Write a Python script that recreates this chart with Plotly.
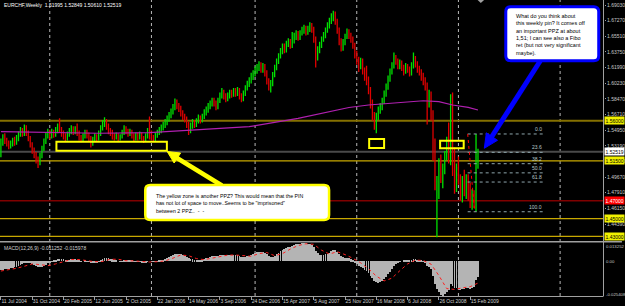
import pandas as pd
import plotly.graph_objects as go

# ---------------- data ----------------
chart_title = "EURCHF,Weekly  1.51995 1.52849 1.50610 1.52519"
macd_title = "MACD(12,26,9) -0.011252 -0.015978"
first_week = "2004-07-11"

open_ = [
    1.524, 1.536, 1.541, 1.538, 1.535, 1.532, 1.534, 1.538, 1.536, 1.540,
    1.545, 1.549, 1.546, 1.553, 1.546, 1.540, 1.533, 1.527, 1.522, 1.517,
    1.513, 1.521, 1.529, 1.537, 1.543, 1.547, 1.543, 1.547, 1.545, 1.549,
    1.553, 1.550, 1.546, 1.543, 1.540, 1.545, 1.549, 1.551, 1.548, 1.550,
    1.546, 1.541, 1.538, 1.543, 1.547, 1.544, 1.540, 1.535, 1.539, 1.542,
    1.540, 1.546, 1.552, 1.557, 1.560, 1.554, 1.549, 1.547, 1.543, 1.541,
    1.544, 1.540, 1.542, 1.547, 1.551, 1.549, 1.546, 1.548, 1.543, 1.540,
    1.544, 1.541, 1.545, 1.540, 1.538, 1.543, 1.549, 1.546, 1.541, 1.539,
    1.544, 1.547, 1.549, 1.552, 1.555, 1.558, 1.562, 1.566, 1.570, 1.575,
    1.580, 1.577, 1.574, 1.569, 1.565, 1.562, 1.556, 1.550, 1.555, 1.558,
    1.556, 1.560, 1.563, 1.561, 1.565, 1.569, 1.572, 1.576, 1.579, 1.582,
    1.580, 1.576, 1.583, 1.588, 1.592, 1.588, 1.585, 1.588, 1.591, 1.590,
    1.593, 1.591, 1.594, 1.588, 1.585, 1.591, 1.597, 1.601, 1.605, 1.610,
    1.613, 1.617, 1.620, 1.622, 1.618, 1.621, 1.614, 1.605, 1.598, 1.602,
    1.612, 1.620, 1.627, 1.633, 1.638, 1.643, 1.640, 1.646, 1.649, 1.645,
    1.650, 1.655, 1.658, 1.654, 1.659, 1.662, 1.664, 1.660, 1.663, 1.667,
    1.664, 1.652, 1.632, 1.640, 1.645, 1.652, 1.656, 1.662, 1.667, 1.672,
    1.677, 1.680, 1.672, 1.662, 1.650, 1.643, 1.648, 1.655, 1.660, 1.656,
    1.652, 1.645, 1.635, 1.628, 1.622, 1.627, 1.617, 1.610, 1.605, 1.595,
    1.580, 1.566, 1.555, 1.565, 1.572, 1.576, 1.582, 1.590, 1.598, 1.607,
    1.615, 1.622, 1.630, 1.627, 1.622, 1.625, 1.620, 1.616, 1.621, 1.618,
    1.614, 1.622, 1.630, 1.624, 1.618, 1.615, 1.610, 1.605, 1.600, 1.578,
    1.590, 1.568, 1.522, 1.490, 1.494, 1.512, 1.498, 1.505, 1.520, 1.535,
    1.516, 1.580, 1.505, 1.488, 1.500, 1.495, 1.478, 1.492, 1.480, 1.494,
    1.475, 1.468, 1.478, 1.470, 1.51995,
]
high = [
    1.540, 1.545, 1.546, 1.541, 1.538, 1.538, 1.541, 1.542, 1.544, 1.548,
    1.553, 1.552, 1.556, 1.555, 1.549, 1.543, 1.536, 1.530, 1.525, 1.520,
    1.524, 1.532, 1.540, 1.547, 1.551, 1.550, 1.551, 1.550, 1.553, 1.557,
    1.563, 1.553, 1.549, 1.546, 1.548, 1.552, 1.555, 1.554, 1.554, 1.557,
    1.549, 1.544, 1.546, 1.550, 1.550, 1.547, 1.543, 1.542, 1.546, 1.545,
    1.549, 1.555, 1.561, 1.564, 1.562, 1.557, 1.552, 1.550, 1.546, 1.547,
    1.546, 1.545, 1.550, 1.555, 1.554, 1.551, 1.551, 1.550, 1.546, 1.547,
    1.547, 1.548, 1.547, 1.543, 1.546, 1.552, 1.565, 1.549, 1.544, 1.547,
    1.550, 1.553, 1.556, 1.559, 1.562, 1.566, 1.570, 1.574, 1.579, 1.585,
    1.584, 1.580, 1.577, 1.572, 1.568, 1.565, 1.559, 1.558, 1.562, 1.561,
    1.563, 1.567, 1.566, 1.568, 1.573, 1.576, 1.580, 1.583, 1.586, 1.586,
    1.583, 1.586, 1.592, 1.597, 1.595, 1.591, 1.592, 1.595, 1.595, 1.597,
    1.597, 1.598, 1.597, 1.591, 1.594, 1.600, 1.605, 1.609, 1.614, 1.617,
    1.621, 1.624, 1.627, 1.626, 1.625, 1.624, 1.617, 1.608, 1.606, 1.615,
    1.623, 1.630, 1.636, 1.642, 1.647, 1.647, 1.650, 1.653, 1.652, 1.660,
    1.659, 1.662, 1.661, 1.662, 1.666, 1.668, 1.667, 1.667, 1.671, 1.670,
    1.666, 1.655, 1.644, 1.649, 1.655, 1.660, 1.665, 1.671, 1.676, 1.681,
    1.684, 1.683, 1.675, 1.665, 1.653, 1.652, 1.658, 1.664, 1.663, 1.659,
    1.655, 1.648, 1.639, 1.632, 1.631, 1.630, 1.620, 1.622, 1.610, 1.598,
    1.584, 1.570, 1.569, 1.576, 1.580, 1.586, 1.594, 1.602, 1.611, 1.619,
    1.626, 1.637, 1.634, 1.630, 1.629, 1.628, 1.623, 1.625, 1.624, 1.621,
    1.626, 1.637, 1.633, 1.627, 1.622, 1.618, 1.614, 1.609, 1.603, 1.595,
    1.593, 1.572, 1.540, 1.498, 1.518, 1.522, 1.512, 1.526, 1.542, 1.558,
    1.590, 1.592, 1.530, 1.512, 1.520, 1.500, 1.498, 1.505, 1.500, 1.500,
    1.490, 1.483, 1.482, 1.5452, 1.52849,
]
low = [
    1.519, 1.532, 1.534, 1.531, 1.528, 1.529, 1.531, 1.532, 1.533, 1.537,
    1.542, 1.542, 1.543, 1.543, 1.537, 1.530, 1.523, 1.518, 1.512, 1.507,
    1.510, 1.518, 1.526, 1.534, 1.540, 1.539, 1.540, 1.541, 1.542, 1.546,
    1.547, 1.542, 1.539, 1.537, 1.538, 1.542, 1.545, 1.544, 1.545, 1.543,
    1.538, 1.536, 1.537, 1.540, 1.540, 1.537, 1.530, 1.532, 1.537, 1.537,
    1.538, 1.543, 1.549, 1.553, 1.550, 1.545, 1.543, 1.539, 1.538, 1.539,
    1.537, 1.538, 1.540, 1.544, 1.545, 1.542, 1.543, 1.540, 1.537, 1.538,
    1.538, 1.539, 1.538, 1.535, 1.537, 1.540, 1.539, 1.538, 1.537, 1.537,
    1.541, 1.544, 1.546, 1.549, 1.552, 1.555, 1.559, 1.563, 1.567, 1.572,
    1.573, 1.570, 1.565, 1.561, 1.558, 1.552, 1.544, 1.546, 1.551, 1.552,
    1.553, 1.557, 1.557, 1.558, 1.562, 1.566, 1.569, 1.573, 1.576, 1.576,
    1.572, 1.573, 1.580, 1.585, 1.584, 1.581, 1.582, 1.585, 1.586, 1.587,
    1.587, 1.588, 1.584, 1.581, 1.582, 1.588, 1.594, 1.598, 1.602, 1.606,
    1.610, 1.613, 1.616, 1.614, 1.614, 1.610, 1.601, 1.594, 1.592, 1.599,
    1.609, 1.617, 1.624, 1.630, 1.635, 1.636, 1.637, 1.643, 1.641, 1.642,
    1.647, 1.651, 1.650, 1.651, 1.656, 1.658, 1.656, 1.657, 1.660, 1.659,
    1.648, 1.620, 1.628, 1.636, 1.642, 1.649, 1.653, 1.659, 1.664, 1.669,
    1.672, 1.668, 1.658, 1.645, 1.638, 1.639, 1.645, 1.652, 1.652, 1.648,
    1.641, 1.630, 1.623, 1.615, 1.618, 1.612, 1.605, 1.600, 1.590, 1.574,
    1.560, 1.550, 1.546, 1.561, 1.568, 1.572, 1.579, 1.587, 1.595, 1.604,
    1.612, 1.619, 1.623, 1.618, 1.618, 1.616, 1.611, 1.613, 1.614, 1.610,
    1.611, 1.619, 1.620, 1.614, 1.611, 1.605, 1.600, 1.594, 1.556, 1.575,
    1.560, 1.515, 1.482, 1.429, 1.472, 1.490, 1.484, 1.500, 1.516, 1.512,
    1.510, 1.498, 1.478, 1.480, 1.488, 1.470, 1.468, 1.475, 1.472, 1.470,
    1.462, 1.460, 1.462, 1.4577, 1.50610,
]
close = [
    1.536, 1.541, 1.538, 1.535, 1.532, 1.534, 1.538, 1.536, 1.540, 1.545,
    1.549, 1.546, 1.553, 1.546, 1.540, 1.533, 1.527, 1.522, 1.517, 1.513,
    1.521, 1.529, 1.537, 1.543, 1.547, 1.543, 1.547, 1.545, 1.549, 1.553,
    1.550, 1.546, 1.543, 1.540, 1.545, 1.549, 1.551, 1.548, 1.550, 1.546,
    1.541, 1.538, 1.543, 1.547, 1.544, 1.540, 1.535, 1.539, 1.542, 1.540,
    1.546, 1.552, 1.557, 1.560, 1.554, 1.549, 1.547, 1.543, 1.541, 1.544,
    1.540, 1.542, 1.547, 1.551, 1.549, 1.546, 1.548, 1.543, 1.540, 1.544,
    1.541, 1.545, 1.540, 1.538, 1.543, 1.549, 1.546, 1.541, 1.539, 1.544,
    1.547, 1.549, 1.552, 1.555, 1.558, 1.562, 1.566, 1.570, 1.575, 1.580,
    1.577, 1.574, 1.569, 1.565, 1.562, 1.556, 1.550, 1.555, 1.558, 1.556,
    1.560, 1.563, 1.561, 1.565, 1.569, 1.572, 1.576, 1.579, 1.582, 1.580,
    1.576, 1.583, 1.588, 1.592, 1.588, 1.585, 1.588, 1.591, 1.590, 1.593,
    1.591, 1.594, 1.588, 1.585, 1.591, 1.597, 1.601, 1.605, 1.610, 1.613,
    1.617, 1.620, 1.622, 1.618, 1.621, 1.614, 1.605, 1.598, 1.602, 1.612,
    1.620, 1.627, 1.633, 1.638, 1.643, 1.640, 1.646, 1.649, 1.645, 1.650,
    1.655, 1.658, 1.654, 1.659, 1.662, 1.664, 1.660, 1.663, 1.667, 1.664,
    1.652, 1.632, 1.640, 1.645, 1.652, 1.656, 1.662, 1.667, 1.672, 1.677,
    1.680, 1.672, 1.662, 1.650, 1.643, 1.648, 1.655, 1.660, 1.656, 1.652,
    1.645, 1.635, 1.628, 1.622, 1.627, 1.617, 1.610, 1.605, 1.595, 1.580,
    1.566, 1.555, 1.565, 1.572, 1.576, 1.582, 1.590, 1.598, 1.607, 1.615,
    1.622, 1.630, 1.627, 1.622, 1.625, 1.620, 1.616, 1.621, 1.618, 1.614,
    1.622, 1.630, 1.624, 1.618, 1.615, 1.610, 1.605, 1.600, 1.578, 1.590,
    1.568, 1.522, 1.490, 1.494, 1.512, 1.498, 1.505, 1.520, 1.535, 1.516,
    1.580, 1.505, 1.488, 1.500, 1.495, 1.478, 1.492, 1.480, 1.494, 1.475,
    1.468, 1.478, 1.470, 1.520, 1.52519,
]
macd_main = [
    -0.0068, -0.0064, -0.0060, -0.0057, -0.0055, -0.0052, -0.0048, -0.0045, -0.0040, -0.0033,
    -0.0025, -0.0019, -0.0011, -0.0008, -0.0009, -0.0014, -0.0021, -0.0029, -0.0037, -0.0045,
    -0.0046, -0.0042, -0.0034, -0.0025, -0.0015, -0.0009, -0.0002, 0.0003, 0.0009, 0.0015,
    0.0018, 0.0018, 0.0016, 0.0012, 0.0011, 0.0012, 0.0014, 0.0013, 0.0013, 0.0011,
    0.0006, 0.0001, 0.0000, 0.0002, 0.0001, -0.0003, -0.0009, -0.0011, -0.0010, -0.0010,
    -0.0004, 0.0005, 0.0014, 0.0022, 0.0024, 0.0022, 0.0019, 0.0013, 0.0008, 0.0005,
    0.0000, -0.0002, 0.0001, 0.0005, 0.0007, 0.0006, 0.0006, 0.0002, -0.0003, -0.0004,
    -0.0006, -0.0004, -0.0007, -0.0010, -0.0008, -0.0002, 0.0000, -0.0003, -0.0006, -0.0005,
    -0.0002, 0.0002, 0.0006, 0.0011, 0.0016, 0.0022, 0.0029, 0.0036, 0.0043, 0.0050,
    0.0053, 0.0053, 0.0050, 0.0045, 0.0039, 0.0031, 0.0021, 0.0016, 0.0013, 0.0009,
    0.0009, 0.0010, 0.0010, 0.0012, 0.0016, 0.0020, 0.0025, 0.0030, 0.0035, 0.0037,
    0.0035, 0.0038, 0.0042, 0.0047, 0.0048, 0.0046, 0.0045, 0.0045, 0.0044, 0.0044,
    0.0042, 0.0042, 0.0037, 0.0031, 0.0030, 0.0032, 0.0036, 0.0041, 0.0047, 0.0053,
    0.0059, 0.0064, 0.0068, 0.0067, 0.0067, 0.0061, 0.0050, 0.0038, 0.0031, 0.0033,
    0.0040, 0.0050, 0.0060, 0.0071, 0.0082, 0.0088, 0.0096, 0.0104, 0.0107, 0.0112,
    0.0118, 0.0124, 0.0125, 0.0128, 0.0131, 0.013252, 0.0130, 0.0127, 0.0126, 0.0121,
    0.0105, 0.0075, 0.0058, 0.0048, 0.0045, 0.0045, 0.0049, 0.0055, 0.0063, 0.0072,
    0.0080, 0.0078, 0.0068, 0.0052, 0.0036, 0.0027, 0.0024, 0.0024, 0.0020, 0.0014,
    0.0005, -0.0008, -0.0023, -0.0037, -0.0042, -0.0053, -0.0064, -0.0073, -0.0086, -0.0105,
    -0.0126, -0.0146, -0.0155, -0.0156, -0.0153, -0.0145, -0.0132, -0.0116, -0.0097, -0.0077,
    -0.0056, -0.0035, -0.0021, -0.0012, -0.0004, 0.0000, 0.0002, 0.0005, 0.0006, 0.0005,
    0.0008, 0.0014, 0.0015, 0.0012, 0.0008, 0.0002, -0.0006, -0.0014, -0.0035, -0.0042,
    -0.0060, -0.0107, -0.0163, -0.0202, -0.0225, -0.0246, -0.025408, -0.0240, -0.0222, -0.0212,
    -0.0170, -0.0180, -0.0196, -0.0196, -0.0198, -0.0208, -0.0204, -0.0206, -0.0197, -0.0199,
    -0.0202, -0.0193, -0.0187, -0.0140, -0.011252,
]
signal_week = list(range(0, 245, 4))
signal_vals = [
    -0.0072, -0.0063, -0.0052, -0.0037, -0.0020, -0.0025, -0.0033, -0.0020, -0.0002, 0.0012,
    0.0012, 0.0006, -0.0004, -0.0002, 0.0014, 0.0014, 0.0003, 0.0002, -0.0004, -0.0006,
    -0.0004, 0.0002, 0.0022, 0.0045, 0.0040, 0.0019, 0.0011, 0.0022, 0.0034, 0.0044,
    0.0045, 0.0038, 0.0036, 0.0055, 0.0063, 0.0040, 0.0055, 0.0088, 0.0114, 0.0127,
    0.0123, 0.0080, 0.0052, 0.0069, 0.0048, 0.0021, -0.0012, -0.0055, -0.0109, -0.0144,
    -0.0124, -0.0070, -0.0020, 0.0008, 0.0005, -0.0022, -0.0105, -0.0200, -0.0206, -0.0195,
    -0.0186, -0.015978,
]
ma_week = [0, 25, 50, 76, 101, 127, 152, 168, 178, 188, 203, 216, 224, 231, 239, 244]
ma_vals = [1.5478, 1.5467, 1.5460, 1.5467, 1.5497, 1.5534, 1.5628, 1.5699,
           1.5750, 1.5778, 1.5801, 1.5826, 1.5815, 1.5778, 1.5752, 1.5722]

date_tick_labels = ["11 Jul 2004", "31 Oct 2004", "20 Feb 2005", "12 Jun 2005",
                    "2 Oct 2005", "22 Jan 2006", "14 May 2006", "3 Sep 2006",
                    "24 Dec 2006", "15 Apr 2007", "5 Aug 2007", "25 Nov 2007",
                    "16 Mar 2008", "6 Jul 2008", "26 Oct 2008", "15 Feb 2009"]
year_grid_dates = ["2005-01-02", "2006-01-01", "2007-01-07", "2008-01-06",
                   "2009-01-04", "2010-01-03"]
price_ticks = [1.69030, 1.67270, 1.65510, 1.63750, 1.61990, 1.60230, 1.58470, 1.56710,
               1.54950, 1.53190, 1.51430, 1.49670, 1.47910, 1.46150, 1.44390]
level_prices = [1.56000, 1.51500, 1.47000, 1.45000, 1.43000]
level_kinds = ["olive", "gold", "red", "gold", "gold"]
bid_price = 1.52519
fib_high, fib_low = 1.5452, 1.4577
fib_ratios = [0.0, 0.236, 0.382, 0.5, 0.618, 1.0]
fib_labels = ["0.0", "23.6", "38.2", "50.0", "61.8", "100.0"]
macd_axis_labels = ["0.013252", "0.00", "-0.025408"]
macd_max, macd_min = 0.013252, -0.025408

yellow_note = ["The yellow zone is another PPZ? This would mean that the PIN",
               "has not lot of space to move..Seems to be \"imprisoned\"",
               "between 2 PPZ..  -  -"]
blue_note = ["What do you think about", "this weekly pin? It comes off",
             "an important PPZ at about", "1,51; I can see also a Fibo",
             "ret (but not very significant", "maybe)."]

# ---------------- geometry ----------------
W, H = 607.0, 296.0          # plot area in px
MAIN_BOTTOM, MACD_TOP = 241.0, 243.0
PX_PER_WEEK, X_FIRST = 1.965, 0.9
P_TOP, P_PER_PX = 1.69597, 0.0011253


def fx(x):
    return x / W


def fy(y):
    return 1 - y / H


t0 = pd.Timestamp(first_week)
wk = pd.Timedelta(days=7)
dates = pd.date_range(first_week, periods=len(close), freq="7D")
x_start = t0 - wk * (X_FIRST / PX_PER_WEEK)
x_end = t0 + wk * ((W - X_FIRST) / PX_PER_WEEK)

GREEN, RED = "#00e000", "#e00000"
fig = go.Figure()
fig.add_trace(go.Ohlc(
    x=dates, open=open_, high=high, low=low, close=close,
    increasing=dict(line=dict(color=GREEN, width=1.3)),
    decreasing=dict(line=dict(color=RED, width=1.3)),
    tickwidth=0.15, xaxis="x", yaxis="y", hoverinfo="skip"))
fig.add_trace(go.Scatter(x=dates[ma_week], y=ma_vals, mode="lines",
                         line=dict(color="#b020b0", width=1.2), yaxis="y"))
fig.add_trace(go.Bar(x=dates, y=macd_main, marker=dict(color="#b4b4b4", line=dict(width=0)),
                     width=3.0 * 86400000, yaxis="y2"))
fig.add_trace(go.Scatter(x=dates[signal_week], y=signal_vals, mode="lines",
                         line=dict(color="#ff2020", width=1, dash="dot"), yaxis="y2"))

shapes = []
ann = []
# year grid
for d in year_grid_dates:
    shapes.append(dict(type="line", xref="x", yref="paper", x0=d, x1=d, y0=0, y1=1,
                       line=dict(color="#b8b8b8", width=1, dash="dot"), layer="below"))
# level lines
lvl_style = {"olive": ("#857000", 2), "gold": ("#c8a800", 1.2), "red": ("#800000", 1.5)}
for p, k in zip(level_prices, level_kinds):
    c, w = lvl_style[k]
    shapes.append(dict(type="line", xref="paper", yref="y", x0=0, x1=1, y0=p, y1=p,
                       line=dict(color=c, width=w), layer="below"))
shapes.append(dict(type="line", xref="paper", yref="y", x0=0, x1=1, y0=bid_price, y1=bid_price,
                   line=dict(color="#4a4a4a", width=2), layer="below"))
# fibo
for r, lab in zip(fib_ratios, fib_labels):
    lv = fib_high - r * (fib_high - fib_low)
    shapes.append(dict(type="line", xref="paper", yref="y", x0=fx(470), x1=fx(548), y0=lv, y1=lv,
                       line=dict(color="#8fa6ad", width=1, dash="dot")))
    ann.append(dict(xref="paper", yref="y", x=fx(547), y=lv, text=lab, showarrow=False,
                    xanchor="right", yanchor="bottom", font=dict(size=5, color="#b8c8cc")))
shapes.append(dict(type="line", xref="paper", yref="y", x0=fx(470), x1=fx(477),
                   y0=fib_high, y1=fib_low, line=dict(color="#ff0000", width=1, dash="dot")))
# yellow zone boxes
for (a, b, c, d) in [(56.7, 141.7, 167.7, 150.7), (371, 139, 386, 148), (442.3, 140.7, 466, 148.3)]:
    shapes.append(dict(type="rect", xref="paper", yref="paper", x0=fx(a), x1=fx(c),
                       y0=fy(d), y1=fy(b), line=dict(color="#ffff00", width=2)))
# frame lines
shapes.append(dict(type="line", xref="paper", yref="paper", x0=0, x1=625 / W,
                   y0=fy(241.8), y1=fy(241.8), line=dict(color="#a0a0a0", width=1.6)))
shapes.append(dict(type="line", xref="paper", yref="paper", x0=fx(606.5), x1=fx(606.5),
                   y0=0, y1=1, line=dict(color="#a0a0a0", width=1)))
shapes.append(dict(type="line", xref="paper", yref="paper", x0=0, x1=fx(606.5),
                   y0=fy(296.5), y1=fy(296.5), line=dict(color="#a0a0a0", width=1)))
shapes.append(dict(type="path", xref="paper", yref="paper",
                   path=f"M{fx(480)},{fy(0)} L{fx(486.5)},{fy(0)} L{fx(483.2)},{fy(3)} Z",
                   fillcolor="#a0a0a0", line=dict(width=0)))


def rrect(x0, y0, x1, y1, r):
    P = lambda x, y: f"{fx(x)},{fy(y)}"
    return (f"M{P(x0 + r, y0)} L{P(x1 - r, y0)} Q{P(x1, y0)} {P(x1, y0 + r)} "
            f"L{P(x1, y1 - r)} Q{P(x1, y1)} {P(x1 - r, y1)} L{P(x0 + r, y1)} "
            f"Q{P(x0, y1)} {P(x0, y1 - r)} L{P(x0, y0 + r)} Q{P(x0, y0)} {P(x0 + r, y0)} Z")


def tri(a, b, c):
    return f"M{fx(a[0])},{fy(a[1])} L{fx(b[0])},{fy(b[1])} L{fx(c[0])},{fy(c[1])} Z"


# yellow arrow + note
shapes.append(dict(type="line", xref="paper", yref="paper", x0=fx(223), y0=fy(185.5),
                   x1=fx(177), y1=fy(157.5), line=dict(color="#ffff00", width=4.5)))
shapes.append(dict(type="path", xref="paper", yref="paper",
                   path=tri((168, 151.5), (181.5, 153), (175, 163)),
                   fillcolor="#ffff00", line=dict(color="#ffff00", width=1)))
shapes.append(dict(type="path", xref="paper", yref="paper", path=rrect(146, 185, 330.7, 220, 5),
                   fillcolor="white", line=dict(color="#ffff00", width=2.5)))
# blue arrow + note
shapes.append(dict(type="line", xref="paper", yref="paper", x0=fx(543.5), y0=fy(60),
                   x1=fx(494), y1=fy(137), line=dict(color="#0000ff", width=5)))
shapes.append(dict(type="path", xref="paper", yref="paper",
                   path=tri((486.7, 148.3), (500, 140.3), (488.8, 132.8)),
                   fillcolor="#0000ff", line=dict(color="#0000ff", width=1)))
shapes.append(dict(type="path", xref="paper", yref="paper", path=rrect(508.3, 6.7, 601.7, 60.7, 5),
                   fillcolor="white", line=dict(color="#0000ff", width=3)))

for i, t in enumerate(yellow_note):
    ann.append(dict(xref="paper", yref="paper", x=fx(154.5), y=fy(195.7 + 7.5 * i), text=t,
                    showarrow=False, xanchor="left", yanchor="middle",
                    font=dict(size=5.25, color="black")))
for i, t in enumerate(blue_note):
    ann.append(dict(xref="paper", yref="paper", x=fx(516.5), y=fy(16 + 7.35 * i), text=t,
                    showarrow=False, xanchor="left", yanchor="middle",
                    font=dict(size=5.5, color="black")))

# header texts
ann.append(dict(xref="paper", yref="paper", x=fx(2.5), y=fy(5), text=chart_title, showarrow=False,
                xanchor="left", yanchor="middle", font=dict(size=5, color="white")))
ann.append(dict(xref="paper", yref="paper", x=fx(2.5), y=fy(248), text=macd_title, showarrow=False,
                xanchor="left", yanchor="middle", font=dict(size=5, color="#d0d0d0")))

# highlighted right-side price labels
lab_style = {"olive": ("#f0f000", "black"), "gold": ("#f0f000", "black"), "red": ("#ff0000", "white")}
for p, k in zip(level_prices, level_kinds):
    bg, fc = lab_style[k]
    ann.append(dict(xref="paper", yref="y", x=fx(607), y=p, text=f"{p:.5f}", showarrow=False,
                    xanchor="left", yanchor="middle", bgcolor=bg, borderpad=0.5,
                    font=dict(size=5, color=fc)))
ann.append(dict(xref="paper", yref="y", x=fx(607), y=bid_price, text=f"{bid_price:.5f}",
                showarrow=False, xanchor="left", yanchor="middle", bgcolor="white", borderpad=0.5,
                font=dict(size=5, color="black")))
# MACD scale labels
for t, yy in zip(macd_axis_labels, [246.7, 261.0, 294.3]):
    ann.append(dict(xref="paper", yref="paper", x=fx(606.5), y=fy(yy), text=t, showarrow=False,
                    xanchor="left", yanchor="middle", font=dict(size=4.3, color="#c8c8c8")))

fig.update_layout(
    width=625, height=306, margin=dict(l=0, r=18, t=0, b=10),
    paper_bgcolor="black", plot_bgcolor="black", showlegend=False, hovermode=False,
    font=dict(family="Arial", size=5, color="#c8c8c8"), bargap=0,
    xaxis=dict(type="date", range=[x_start, x_end], domain=[0, 1], anchor="y2",
               showgrid=False, zeroline=False, showline=False,
               tickvals=list(dates[::16]), ticktext=date_tick_labels, tickangle=0,
               ticks="outside", ticklen=3, tickcolor="#a0a0a0",
               tickfont=dict(size=5, color="#d0d0d0"), ticklabelposition="outside right",
               rangeslider=dict(visible=False)),
    yaxis=dict(domain=[(H - MAIN_BOTTOM) / H, 1], anchor="x", side="right",
               range=[P_TOP - MAIN_BOTTOM * P_PER_PX, P_TOP],
               tickvals=price_ticks, ticktext=[f"{v:.5f}" for v in price_ticks],
               ticks="outside", ticklen=1, tickcolor="#a0a0a0",
               tickfont=dict(size=5, color="#c8c8c8"),
               showgrid=False, zeroline=False, showline=False),
    yaxis2=dict(domain=[0, (H - MACD_TOP) / H], anchor="x", range=[macd_min, macd_max],
                showticklabels=False, showgrid=False, zeroline=False, showline=False, ticks=""),
    shapes=shapes, annotations=ann,
)
fig.write_html("out.html")
